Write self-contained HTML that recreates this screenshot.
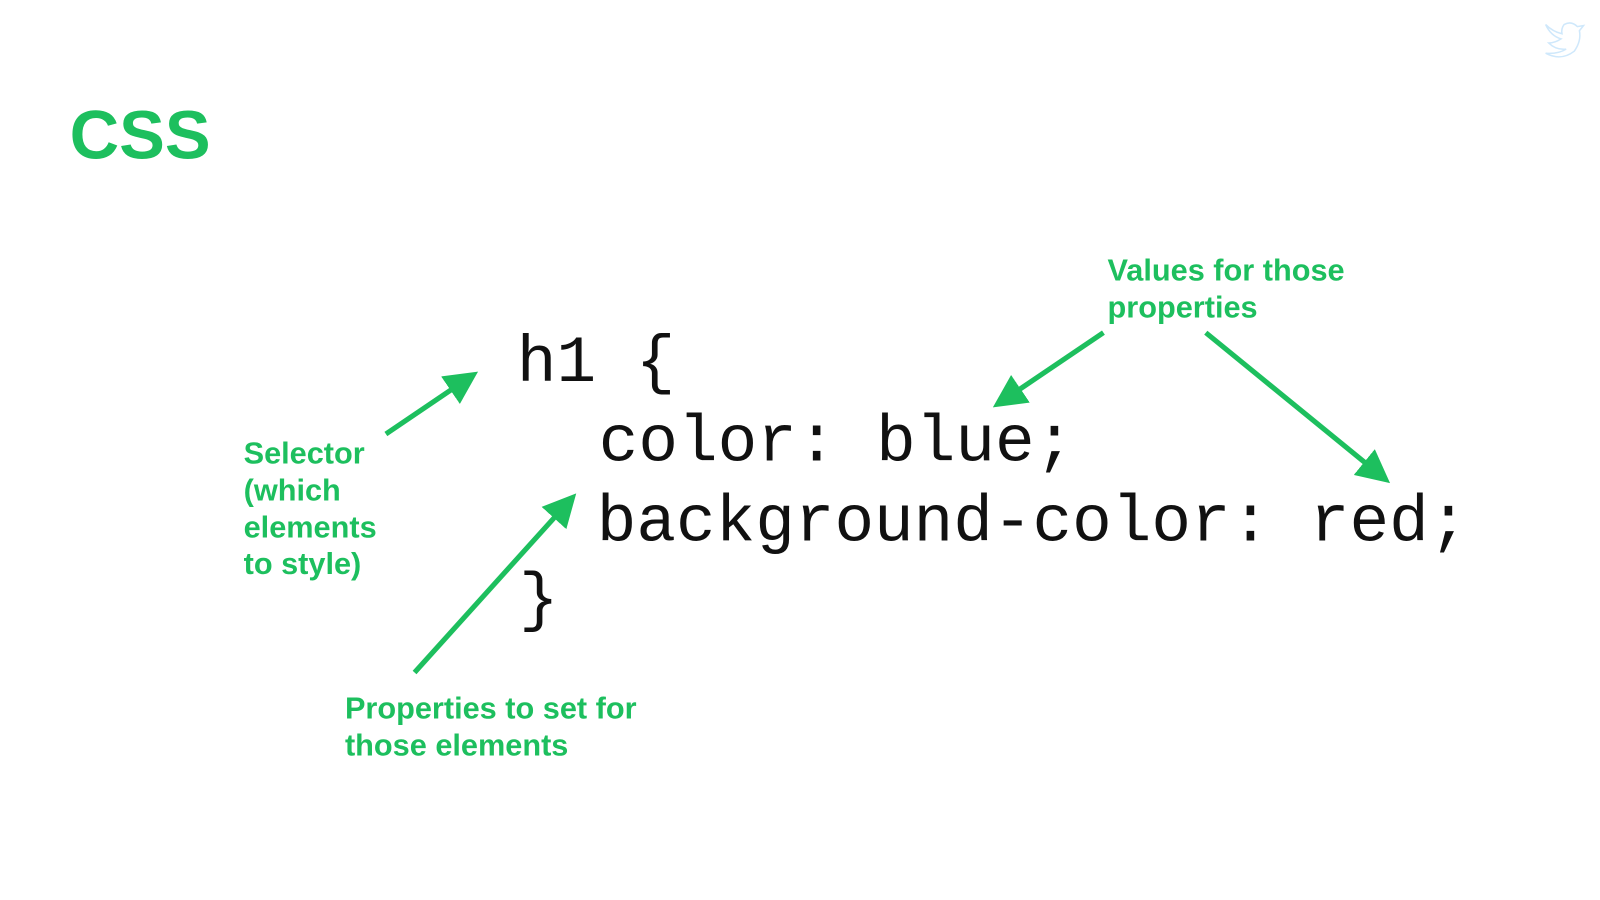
<!DOCTYPE html>
<html><head><meta charset="utf-8"><style>
html,body{margin:0;padding:0;background:#fff;}
svg{display:block;}
</style></head><body>
<svg width="1600" height="900" viewBox="0 0 1600 900" xmlns="http://www.w3.org/2000/svg">
<defs>
<marker id="ah" markerWidth="6.5" markerHeight="6.5" refX="4.9" refY="3.25" orient="auto" markerUnits="strokeWidth">
<path d="M0,0 L6.5,3.25 L0,6.5 z" fill="#1dbf5e"/>
</marker>
</defs>
<rect width="1600" height="900" fill="#fff"/>
<g transform="scale(1.0236)">
<text x="68" y="155" font-family="Liberation Sans, sans-serif" font-weight="bold" font-size="67" fill="#1dbf5e">CSS</text>
<g font-family="Liberation Mono, monospace" font-size="64.5" fill="#111">
<text x="505" y="372">h1 {</text>
<text x="585" y="450">color: blue;</text>
<text x="583" y="528">background-color: red;</text>
<text x="507" y="604">}</text>
</g>
<g font-family="Liberation Sans, sans-serif" font-weight="bold" font-size="30" fill="#1dbf5e">
<text x="238" y="453">Selector</text>
<text x="238" y="489">(which</text>
<text x="238" y="525">elements</text>
<text x="238" y="561">to style)</text>
<text x="1082" y="274">Values for those</text>
<text x="1082" y="310">properties</text>
<text x="337" y="702">Properties to set for</text>
<text x="337" y="738">those elements</text>
</g>
<g stroke="#1dbf5e" stroke-width="5" fill="none" marker-end="url(#ah)">
<line x1="377" y1="424" x2="460.4" y2="367.5"/>
<line x1="405" y1="657" x2="557.6" y2="487.9"/>
<line x1="1078" y1="325" x2="976.6" y2="393.5"/>
<line x1="1178" y1="325" x2="1351.8" y2="466.9"/>
</g>
<path d="M1510,24 Q1515,35 1525,38 Q1519,42 1513,42 Q1520,49 1530,48 Q1522,53 1510,52 Q1525,60 1538,50 Q1545,40 1543,30 L1547,25 L1541,26 Q1535,20 1528,24 Q1525,28 1526,33 Q1517,31 1510,24 z" fill="none" stroke="#cfe8fb" stroke-width="1.5"/>
</g>
</svg>
</body></html>
